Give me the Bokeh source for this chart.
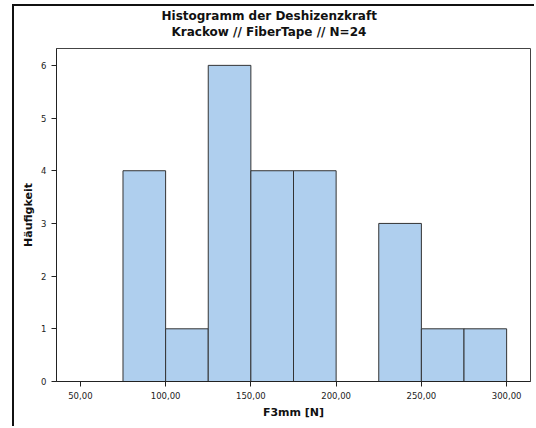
from bokeh.plotting import figure
from bokeh.models import Title, FixedTicker, Range1d
from bokeh.embed import file_html
from bokeh.resources import INLINE

# data
bin_left = [75, 100, 125, 150, 175, 200, 225, 250, 275]
bin_right = [100, 125, 150, 175, 200, 225, 250, 275, 300]
counts = [4, 1, 6, 4, 4, 0, 3, 1, 1]
x_ticks = [50, 100, 150, 200, 250, 300]
x_tick_labels = ["50,00", "100,00", "150,00", "200,00", "250,00", "300,00"]
y_ticks = [0, 1, 2, 3, 4, 5, 6]
title_lines = ["Histogramm der Deshizenzkraft", "Krackow // FiberTape // N=24"]

FONT = "DejaVu Sans"

p = figure(frame_width=474, frame_height=333, output_backend="svg", toolbar_location=None,
           x_range=Range1d(36, 314), y_range=Range1d(0, 6.32),
           min_border_left=42, min_border_right=4, min_border_top=42, min_border_bottom=45)
p.margin = (4, 0, 0, 12)
p.styles = {"border-left": "2px solid #111", "border-top": "2px solid #111"}

p.quad(left=[l for l, c in zip(bin_left, counts) if c > 0],
       right=[r for r, c in zip(bin_right, counts) if c > 0],
       top=[c for c in counts if c > 0], bottom=0,
       fill_color="#afcfee", line_color="#333333", line_width=1)

p.xgrid.visible = False
p.ygrid.visible = False
p.outline_line_color = "#444444"
p.outline_line_width = 1
p.background_fill_color = "white"
p.border_fill_color = "white"

for ax in (p.xaxis[0], p.yaxis[0]):
    ax.axis_line_color = "#222222"
    ax.major_tick_line_color = "#222222"
    ax.minor_tick_line_color = None
    ax.major_tick_in = 0
    ax.major_tick_out = 5
    ax.major_label_text_font = FONT
    ax.major_label_text_font_size = "8.5px"
    ax.major_label_text_color = "#222222"
    ax.axis_label_text_font = FONT
    ax.axis_label_text_font_style = "bold"
    ax.axis_label_text_font_size = "11px"
    ax.axis_label_text_color = "#111111"

p.xaxis.ticker = FixedTicker(ticks=x_ticks)
p.xaxis.major_label_overrides = {t: l for t, l in zip(x_ticks, x_tick_labels)}
p.yaxis.ticker = FixedTicker(ticks=y_ticks)
p.xaxis.axis_label = "F3mm [N]"
p.yaxis.axis_label = "Häufigkeit"
p.xaxis.axis_label_standoff = 4
p.yaxis.axis_label_standoff = 3
p.yaxis.major_label_orientation = "horizontal"

# title lines: left-aligned with offsets so each is centred on the chart
offsets = [105, 115]
standoffs = [-19, 19]
for i in (1, 0):
    t = Title(text=title_lines[i], align="left", offset=offsets[i], standoff=standoffs[i],
              text_font=FONT, text_font_style="bold", text_font_size="12px",
              text_color="#111111", text_line_height=0.75)
    p.add_layout(t, "above")

open("out.html", "w").write(file_html(p, INLINE))
